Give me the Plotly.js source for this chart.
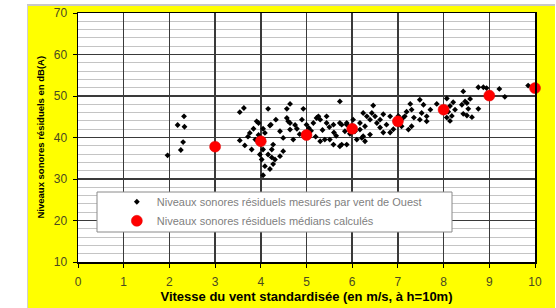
<!DOCTYPE html>
<html>
<head>
<meta charset="utf-8">
<script src="https://cdn.plot.ly/plotly-3.0.1.min.js"></script>
<style>
html,body{margin:0;padding:0;background:#fff;}
#frame{position:absolute;left:27px;top:4px;width:527px;height:304px;background:#ffff00;border-top:2px solid #c8c8c8;border-left:1px solid #d0d0d0;}
#chart{position:absolute;left:0;top:0;width:556px;height:308px;}
</style>
</head>
<body>
<div id="frame"></div>
<div id="chart"></div>
<script>
// Measured residual noise levels (west wind)
const windSpeed = [1.96,2.18,2.25,2.30,2.32,2.33,3.54,3.63,3.54,3.65,3.80,3.76,3.84,3.91,3.95,4.05,4.09,4.16,4.20,4.22,4.33,4.42,4.57,4.64,4.60,4.57,4.64,4.64,4.79,4.93,4.90,5.00,5.15,5.22,5.30,5.26,5.44,5.44,5.59,5.73,5.88,5.73,4.27,4.24,4.05,3.98,4.02,4.09,4.05,4.20,4.27,4.31,4.42,4.49,4.16,4.24,4.71,4.49,5.40,5.59,5.73,5.30,5.51,6.46,6.24,6.32,6.43,6.50,6.68,6.83,7.01,7.19,7.27,7.30,7.15,7.48,7.56,7.71,7.52,7.63,7.85,7.99,8.07,7.48,7.63,7.30,7.23,6.02,6.17,6.28,6.39,6.54,6.61,6.75,6.68,6.83,6.90,7.08,6.61,5.77,5.88,5.84,6.06,6.10,6.21,6.28,6.24,5.88,5.77,6.17,6.39,8.21,8.14,8.10,8.07,8.14,8.18,8.43,8.47,8.40,8.51,8.58,8.54,8.43,8.51,8.62,8.76,8.76,8.87,8.94,9.22,9.34,9.85,8.25,4.85,5.10,5.20,5.35,5.60,5.50,4.75,5.05,5.65,5.95,3.72,3.88,3.95,7.10,7.35,6.95];
const noiseLevel = [35.7,43.0,37.0,38.9,45.1,42.6,46.1,47.1,39.3,38.1,37.1,41.1,42.1,43.9,43.5,42.1,41.1,46.9,42.9,43.1,44.3,41.5,46.9,48.1,43.9,44.7,43.5,41.9,42.1,46.9,44.3,43.1,43.5,44.7,44.3,45.1,45.1,43.5,43.1,43.5,43.1,48.7,38.3,37.1,37.1,35.9,34.7,33.1,30.9,32.4,33.6,34.7,35.5,36.7,35.9,35.2,39.5,39.9,39.5,38.3,37.9,39.1,39.5,47.7,45.9,45.1,45.9,45.1,45.6,45.1,45.2,46.2,48.1,46.7,45.1,49.1,47.9,46.7,45.9,45.1,48.1,46.2,49.4,44.3,43.9,42.7,41.9,44.3,43.5,42.7,44.3,43.5,42.4,43.1,41.2,41.2,42.0,42.7,44.3,43.1,43.5,41.5,41.5,39.5,39.9,39.1,40.3,38.3,38.3,41.9,40.7,48.5,47.6,46.2,44.8,44.0,45.2,51.1,48.7,47.9,48.3,49.3,46.9,45.7,45.3,44.9,46.9,52.1,52.1,51.9,51.7,49.8,52.5,46.7,40.8,41.6,40.2,41.8,41.2,42.5,43.0,42.3,40.4,40.9,40.2,39.5,40.6,44.6,44.8,44.0];
// Calculated median residual noise levels
const medianSpeed = [3,4,5,6,7,8,9,10];
const medianLevel = [37.8,39.1,40.6,42.1,43.9,46.7,50.1,51.9];
const xTicks = [0,1,2,3,4,5,6,7,8,9,10];
const yTicks = [10,20,30,40,50,60,70];
const seriesNames = ["Niveaux sonores résiduels mesurés par vent de Ouest","Niveaux sonores résiduels médians calculés"];
const xTitle = 'Vitesse du vent standardisée (en m/s, à h=10m)';
const yTitle = 'Niveaux sonores résiduels en dB(A)';

const traces = [
  {x: windSpeed, y: noiseLevel, mode:'markers', type:'scatter', name: seriesNames[0],
   marker:{symbol:'diamond', size:4.5, color:'#000'}, cliponaxis:false},
  {x: medianSpeed, y: medianLevel, mode:'markers', type:'scatter', name: seriesNames[1],
   marker:{symbol:'circle', size:11, color:'#ff0000', line:{color:'#e00000', width:0.5}}, cliponaxis:false}
];

const layout = {
  width:556, height:308,
  margin:{l:78, r:21, t:13, b:46, pad:0},
  paper_bgcolor:'rgba(0,0,0,0)', plot_bgcolor:'#fff',
  font:{family:'Liberation Sans, Arial, sans-serif', color:'#000'},
  showlegend:true,
  legend:{x:0.085, y:0.30, xanchor:'left', yanchor:'top', bgcolor:'rgba(0,0,0,0)', borderwidth:0,
          font:{size:11, color:'#808080'}, itemclick:false},
  shapes:[{type:'rect', xref:'paper', yref:'paper', layer:'above',
           x0:(97-78)/457, x1:(452-78)/457, y0:(262-232)/249, y1:(262-192)/249,
           fillcolor:'#fff', line:{color:'#8a8a8a', width:1}}],
  annotations:[{text:yTitle, xref:'paper', yref:'paper', x:(40-78)/457, y:0.5, textangle:-90,
                showarrow:false, xanchor:'center', yanchor:'middle',
                font:{size:9.5, color:'#000', weight:'bold'}}],
  xaxis:{range:[0,10], tickvals:xTicks, ticktext:xTicks.map(String), showgrid:true, gridcolor:'#3a3a3a', gridwidth:1.5,
         zeroline:false, showline:true, linecolor:'#000', linewidth:1.5, mirror:true,
         ticks:'outside', ticklen:4, tickcolor:'#000', tickfont:{size:12, color:'#4a4a20'}, ticklabelstandoff:4,
         title:{text:xTitle, font:{size:13, color:'#000', weight:'bold'}, standoff:4}},
  yaxis:{range:[10,70], tickvals:yTicks, showgrid:true, gridcolor:'#3a3a3a', gridwidth:1.5,
         minor:{dtick:2, showgrid:true, gridcolor:'#c4c4c4', gridwidth:1, ticks:''},
         zeroline:false, showline:true, linecolor:'#000', linewidth:1.5, mirror:true,
         ticks:'outside', ticklen:4, tickcolor:'#000', tickfont:{size:12, color:'#4a4a20'}, ticklabelstandoff:3}
};
Plotly.newPlot('chart', traces, layout, {staticPlot:true, displayModeBar:false});
</script>
</body>
</html>
